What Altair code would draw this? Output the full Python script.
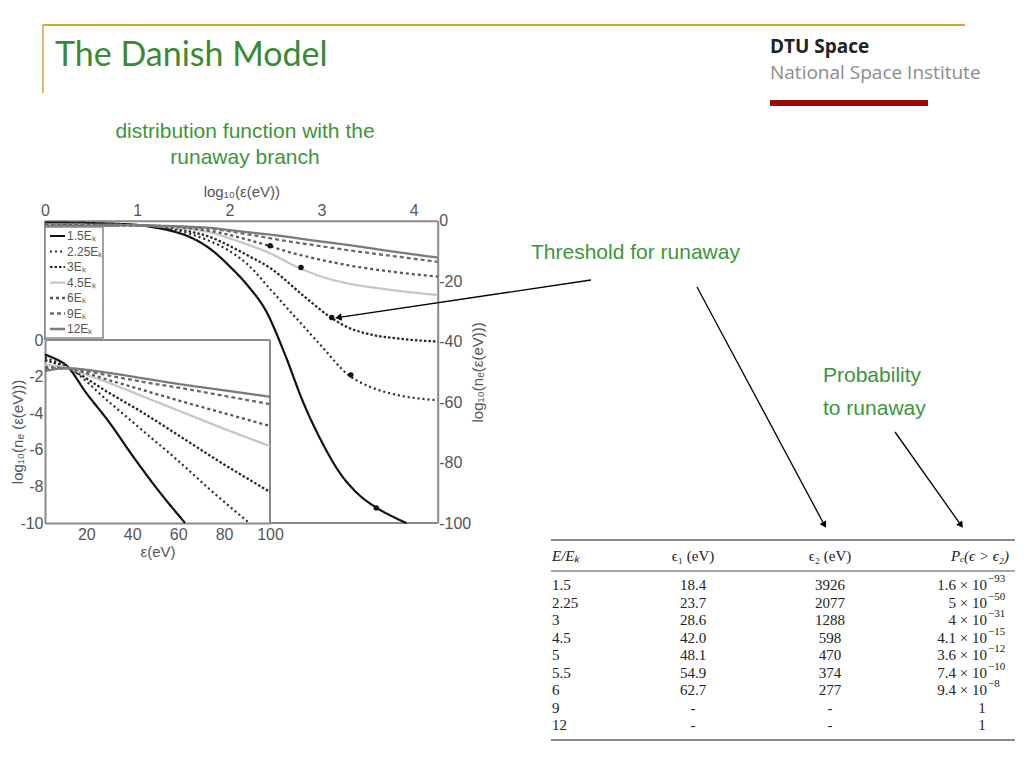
import math
import altair as alt
import pandas as pd

OFF = 8          # page margin
W, H = 1008, 752


def px(v):
    return v - OFF


FONT = "Liberation Sans"
GREEN = "#3c9638"

# ---------------- data: main panel (x = log10 eps, y = log10 n_e) ----------------
series = ["1.5Eₖ", "2.25Eₖ", "3Eₖ", "4.5Eₖ", "6Eₖ", "9Eₖ", "12Eₖ"]
line_colors = ["#111111", "#2b2b2b", "#262626", "#c6c6c6", "#555555", "#6a6a6a", "#7a7a7a"]
line_dashes = [[1, 0], [2, 3], [2.5, 2], [1, 0], [3, 3], [4, 3], [1, 0]]
line_widths = [2.2, 2.3, 2.5, 2.0, 1.5, 1.5, 1.7]

lx_15 = [0, 0.5, 1.0, 1.2, 1.4, 1.6, 1.8, 2.0, 2.2, 2.4, 2.6, 2.8, 3.0, 3.2, 3.4, 3.6, 3.8, 3.92]
ly_15 = [-0.6, -0.8, -1.4, -2.3, -3.6, -5.8, -9.5, -15, -21.5, -30, -44, -60, -73, -83.5, -90.5, -95, -98.3, -100]
lx_225 = [0, 0.5, 1.0, 1.2, 1.4, 1.6, 1.8, 2.0, 2.2, 2.45, 2.6, 2.81, 3.0, 3.29, 3.53, 3.8, 4.26]
ly_225 = [-0.8, -1.0, -1.45, -2.0, -3.0, -4.6, -6.9, -10, -14.5, -22.9, -28, -35.1, -41.5, -51, -55, -57.5, -59.4]
lx_3 = [0, 0.5, 1.0, 1.2, 1.4, 1.6, 1.8, 2.0, 2.2, 2.45, 2.81, 3.1, 3.3, 3.53, 3.9, 4.26]
ly_3 = [-1.0, -1.15, -1.5, -1.9, -2.6, -3.8, -5.5, -8.3, -11.5, -15.8, -25, -32, -35.5, -37.6, -39.2, -40]
lx_45 = [0, 0.5, 1.0, 1.2, 1.4, 1.6, 1.8, 2.0, 2.2, 2.42, 2.75, 3.0, 3.28, 3.68, 4.26]
ly_45 = [-1.3, -1.35, -1.5, -1.8, -2.2, -2.9, -3.9, -5.8, -7.9, -10.5, -15.5, -18.5, -20.7, -22.6, -24.6]
lx_6 = [0, 0.5, 1.0, 1.2, 1.4, 1.6, 1.8, 2.0, 2.2, 2.43, 2.55, 2.9, 3.28, 3.8, 4.26]
ly_6 = [-1.45, -1.5, -1.55, -1.75, -2.05, -2.6, -3.4, -4.7, -6.3, -8.3, -9.5, -12.3, -14.7, -17, -18.5]
lx_9 = [0, 0.5, 1.0, 1.2, 1.4, 1.6, 1.8, 2.0, 2.2, 2.55, 2.9, 3.28, 3.8, 4.26]
ly_9 = [-1.6, -1.55, -1.55, -1.7, -1.9, -2.2, -2.65, -3.5, -4.5, -6.4, -8.0, -9.7, -11.8, -13.6]
lx_12 = [0, 0.5, 1.0, 1.2, 1.4, 1.6, 1.8, 2.0, 2.2, 2.55, 2.9, 3.28, 3.8, 4.26]
ly_12 = [-1.75, -1.65, -1.55, -1.65, -1.8, -2.05, -2.4, -3.1, -3.8, -5.0, -6.5, -8.0, -10.3, -12.2]

# threshold markers (eps2 from the table, log10 n_e)
dot_series = ["1.5Eₖ", "2.25Eₖ", "3Eₖ", "4.5Eₖ", "6Eₖ"]
dot_e2 = [3926, 2077, 1288, 598, 277]
dot_logn = [-95, -51, -32, -15.5, -8.3]

# ---------------- data: inset (x = eps in eV, y = log10 n_e) ----------------
ix_15 = [2, 6, 11.4, 20, 30, 40, 50, 63]
iy_15 = [-0.8, -1.0, -1.4, -2.9, -4.5, -6.3, -8.0, -10]
ix_225 = [2, 6, 11.4, 30, 45, 60, 75, 91]
iy_225 = [-0.95, -1.15, -1.45, -3.4, -5.0, -6.6, -8.3, -10]
ix_3 = [2, 6, 11.4, 30, 45, 60, 80, 100]
iy_3 = [-1.1, -1.25, -1.5, -2.9, -4.0, -5.2, -6.8, -8.3]
ix_45 = [2, 6, 11.4, 20, 30, 45, 60, 80, 100]
iy_45 = [-1.35, -1.4, -1.5, -1.9, -2.35, -3.1, -3.85, -4.85, -5.8]
ix_6 = [2, 6, 11.4, 30, 45, 60, 80, 100]
iy_6 = [-1.5, -1.5, -1.55, -2.2, -2.75, -3.3, -4.0, -4.7]
ix_9 = [2, 6, 11.4, 30, 45, 60, 80, 100]
iy_9 = [-1.6, -1.55, -1.55, -1.95, -2.3, -2.6, -3.05, -3.5]
ix_12 = [2, 6, 11.4, 30, 45, 60, 80, 100]
iy_12 = [-1.7, -1.6, -1.55, -1.8, -2.1, -2.4, -2.75, -3.1]

main_ticks_x = [0, 1, 2, 3, 4]
main_ticks_y = [0, -20, -40, -60, -80, -100]
inset_ticks_x = [20, 40, 60, 80, 100]
inset_ticks_y = [0, -2, -4, -6, -8, -10]

# ---------------- data: table ----------------
E_ratio = ["1.5", "2.25", "3", "4.5", "5", "5.5", "6", "9", "12"]
eps1 = ["18.4", "23.7", "28.6", "42.0", "48.1", "54.9", "62.7", "-", "-"]
eps2 = ["3926", "2077", "1288", "598", "470", "374", "277", "-", "-"]
prob_mant = ["1.6", "5", "4", "4.1", "3.6", "7.4", "9.4", "1", "1"]
prob_exp = ["−93", "−50", "−31", "−15", "−12", "−10", "−8", "", ""]

# ---------------- build tables ----------------
main_pairs = [(lx_15, ly_15), (lx_225, ly_225), (lx_3, ly_3), (lx_45, ly_45),
              (lx_6, ly_6), (lx_9, ly_9), (lx_12, ly_12)]
inset_pairs = [(ix_15, iy_15), (ix_225, iy_225), (ix_3, iy_3), (ix_45, iy_45),
               (ix_6, iy_6), (ix_9, iy_9), (ix_12, iy_12)]

rows = []
for s, (xs, ys) in zip(series, main_pairs):
    for i, (a, b) in enumerate(zip(xs, ys)):
        rows.append({"series": s, "lx": a, "ly": b, "i": i})
df_main = pd.DataFrame(rows)

rows = []
for s, (xs, ys) in zip(series, inset_pairs):
    for i, (a, b) in enumerate(zip(xs, ys)):
        rows.append({"series": s, "ex": a, "ey": b, "i": i})
df_inset = pd.DataFrame(rows)

df_dots = pd.DataFrame({"series": dot_series, "e2": dot_e2, "ly": dot_logn})
df_leg = pd.DataFrame({"series": series, "row": list(range(len(series))), "label": series})

color_enc = alt.Color("series:N", scale=alt.Scale(domain=series, range=line_colors), legend=None)
dash_enc = alt.StrokeDash("series:N", scale=alt.Scale(domain=series, range=line_dashes), legend=None)
width_enc = alt.StrokeWidth("series:N", scale=alt.Scale(domain=series, range=line_widths), legend=None)

axis_common = dict(labelFont=FONT, titleFont=FONT, labelFontSize=16, titleFontSize=15,
                   labelColor="#555555", titleColor="#555555", titleFontWeight="normal",
                   domainColor="#8a8a8a", domainWidth=2, ticks=False, grid=False,
                   labelFlush=False, labelOverlap=False, labelExpr="'' + datum.value")

# ---------------- main panel ----------------
mx = alt.Scale(domain=[0, 4.26], range=[px(45), px(437.7)], nice=False, zero=False)
my = alt.Scale(domain=[-100, 0], range=[px(523), px(220.7)], nice=False, zero=False)
main_xaxis = alt.Axis(orient="top", values=main_ticks_x, offset=-px(220.7), title="log₁₀(ε(eV))",
                      labelPadding=2, titlePadding=3, **axis_common)
main_yaxis = alt.Axis(orient="right", values=main_ticks_y, offset=px(437.7) - W,
                      title="log₁₀(nₑ(ε(eV)))", titleAngle=270, titleBaseline="top",
                      labelPadding=1, titlePadding=0, **axis_common)

main_lines = alt.Chart(df_main).mark_line(interpolate="monotone").encode(
    x=alt.X("lx:Q", scale=mx, axis=main_xaxis),
    y=alt.Y("ly:Q", scale=my, axis=main_yaxis),
    color=color_enc, strokeDash=dash_enc, strokeWidth=width_enc,
    detail="series:N", order="i:Q",
)
main_dots = alt.Chart(df_dots).transform_calculate(lx="log(datum.e2)/LN10").mark_point(
    filled=True, size=30, color="#111111", opacity=1
).encode(
    x=alt.X("lx:Q", scale=mx, axis=main_xaxis),
    y=alt.Y("ly:Q", scale=my, axis=main_yaxis),
)
main_panel = alt.layer(main_lines, main_dots)

# ---------------- inset ----------------
ixs = alt.Scale(domain=[2, 100], range=[px(45), px(270)], nice=False, zero=False)
iys = alt.Scale(domain=[-10, 0], range=[px(523), px(340)], nice=False, zero=False)
inset_xaxis = alt.Axis(orient="bottom", values=inset_ticks_x, offset=px(523) - H, title="ε(eV)",
                       labelPadding=3, titlePadding=2, **axis_common)
inset_yaxis = alt.Axis(orient="left", values=inset_ticks_y, offset=-px(45),
                       title="log₁₀(nₑ (ε(eV)))", titleAngle=270, titleBaseline="middle",
                       titleX=px(17) - px(45), titleY=(px(340) + px(523)) / 2,
                       labelPadding=2, **axis_common)
inset_lines = alt.Chart(df_inset).mark_line(interpolate="monotone").encode(
    x=alt.X("ex:Q", scale=ixs, axis=inset_xaxis),
    y=alt.Y("ey:Q", scale=iys, axis=inset_yaxis),
    color=color_enc, strokeDash=dash_enc, strokeWidth=width_enc,
    detail="series:N", order="i:Q",
)

# ---------------- legend (inside main panel) ----------------
leg_y = alt.Scale(domain=[0, 6], range=[px(236), px(329)], nice=False, zero=False)
leg_box = alt.Chart(pd.DataFrame({"x": [px(45)], "x2": [px(103)], "y": [px(227)], "y2": [px(338)]})).mark_rect(
    fill="white", stroke="#8a8a8a", strokeWidth=1.6
).encode(x=alt.X("x:Q", scale=None), x2="x2:Q", y=alt.Y("y:Q", scale=None), y2="y2:Q")
leg_lines = alt.Chart(df_leg).mark_rule().encode(
    x=alt.value(px(50)), x2=alt.value(px(65)),
    y=alt.Y("row:Q", scale=leg_y, axis=None),
    color=color_enc, strokeDash=dash_enc, strokeWidth=width_enc,
)
leg_text = alt.Chart(df_leg).mark_text(align="left", baseline="middle", font=FONT, fontSize=12,
                                       color="#555555").encode(
    x=alt.value(px(67)), y=alt.Y("row:Q", scale=leg_y, axis=None), text="label:N")
legend = alt.layer(leg_lines, leg_text)

# ---------------- annotation rules (frames, header lines, arrows, table rules) ----------------
arrows = [(591, 280, 335, 318), (697, 287, 826, 528), (895, 432, 963, 528)]
rule_rows = [
    # slide header
    (43, 25, 965, 25, "#d4a72c", 2), (43, 25, 43, 93, "#d4a72c", 1.5),
    (770, 103, 928, 103, "#9b0a0a", 6),
    # frames of the figure
    (45, 220.7, 45, 340, "#8a8a8a", 2), (270, 523, 437.7, 523, "#8a8a8a", 2),
    (45, 340, 270, 340, "#8a8a8a", 2), (270, 340, 270, 523, "#8a8a8a", 2),
    # table rules
    (551, 540, 1015, 540, "#8a8a8a", 2), (551, 571, 1015, 571, "#8a8a8a", 1.5),
    (551, 740, 1015, 740, "#8a8a8a", 2),
]
heads = []
for (x0, y0, x1, y1) in arrows:
    dx, dy = x1 - x0, y1 - y0
    L = math.hypot(dx, dy)
    ux, uy = dx / L, dy / L
    rule_rows.append((x0, y0, x1 - 6 * ux, y1 - 6 * uy, "#000000", 1.3))
    ang = math.degrees(math.atan2(dx, -dy)) % 360
    heads.append({"x": px(x1 - 4.5 * ux), "y": px(y1 - 4.5 * uy), "a": ang})
df_rules = pd.DataFrame([{"x": px(a), "y": px(b), "x2": px(c), "y2": px(d), "c": col, "w": w}
                         for a, b, c, d, col, w in rule_rows])
rules = alt.Chart(df_rules).mark_rule().encode(
    x=alt.X("x:Q", scale=None), y=alt.Y("y:Q", scale=None), x2="x2:Q", y2="y2:Q",
    stroke=alt.Stroke("c:N", scale=None), strokeWidth=alt.StrokeWidth("w:Q", scale=None))
arrow_heads = alt.Chart(pd.DataFrame(heads)).mark_point(shape="triangle", filled=True, size=55,
                                                        color="#000000", opacity=1).encode(
    x=alt.X("x:Q", scale=None), y=alt.Y("y:Q", scale=None), angle=alt.Angle("a:Q", scale=None))


def text_layer(items, **kw):
    df = pd.DataFrame([{"x": px(a), "y": px(b), "t": t} for a, b, t in items])
    return alt.Chart(df).mark_text(baseline="middle", **kw).encode(
        x=alt.X("x:Q", scale=None), y=alt.Y("y:Q", scale=None), text="t:N")


title_txt = text_layer([(55, 56, "The Danish Model")], align="left", font="Lato", fontSize=34,
                       color="#3b8a31")
dtu_txt = text_layer([(770, 47, "DTU Space")], align="left", font="Open Sans", fontSize=19,
                     fontWeight="bold", color="#222222")
nsi_txt = text_layer([(770, 73, "National Space Institute")], align="left", font="Open Sans",
                     fontSize=19, color="#8c8c8c")
green_center = text_layer([(245, 132, "distribution function with the"), (245, 158, "runaway branch")],
                          align="center", font=FONT, fontSize=21, color=GREEN)
green_left = text_layer([(531, 253, "Threshold for runaway"), (823, 376, "Probability"),
                         (823, 409, "to runaway")], align="left", font=FONT, fontSize=21, color=GREEN)

# ---------------- table text ----------------
tab_y = alt.Scale(domain=[0, 8], range=[px(585), px(725)], nice=False, zero=False)
df_tab = pd.DataFrame({"r": list(range(len(E_ratio))), "E": E_ratio, "e1": eps1, "e2": eps2,
                       "m": prob_mant, "x": prob_exp})
df_tab["base"] = [m + " × 10" if x else "" for m, x in zip(prob_mant, prob_exp)]
df_tab["single"] = ["" if x else m for m, x in zip(prob_mant, prob_exp)]
SERIF = "Liberation Serif"


def tab_col(field, xpos, align, size=15, dy=0):
    return alt.Chart(df_tab).mark_text(align=align, baseline="middle", font=SERIF, fontSize=size,
                                       color="#222222", dy=dy).encode(
        x=alt.value(px(xpos)), y=alt.Y("r:Q", scale=tab_y, axis=None), text=f"{field}:N")


tab_cols = [tab_col("E", 552, "left"), tab_col("e1", 693, "center"),
            tab_col("e2", 830, "center"), tab_col("base", 987, "right"),
            tab_col("x", 988, "left", size=11, dy=-6), tab_col("single", 982, "center")]
tab_head_it = text_layer([(552, 556, "E/Eₖ")], align="left", font=SERIF, fontSize=15,
                         fontStyle="italic", color="#222222")
tab_head = text_layer([(693, 556, "ϵ₁ (eV)"), (830, 556, "ϵ₂ (eV)")], align="center", font=SERIF,
                      fontSize=15, color="#222222")
tab_head_p = text_layer([(980, 556, "Pₑ(ϵ > ϵ₂)")], align="center", font=SERIF, fontSize=15,
                        fontStyle="italic", color="#222222")

chart = alt.layer(
    rules, arrow_heads, main_panel, inset_lines, leg_box, legend,
    title_txt, dtu_txt, nsi_txt, green_center, green_left,
    *tab_cols, tab_head_it, tab_head, tab_head_p,
).resolve_scale(x="independent", y="independent").properties(
    width=W, height=H, padding=0, autosize=alt.AutoSizeParams(type="none"),
    background="white",
).configure_view(stroke=None)

chart.save("out.html", embed_options={"renderer": "svg", "actions": False})
